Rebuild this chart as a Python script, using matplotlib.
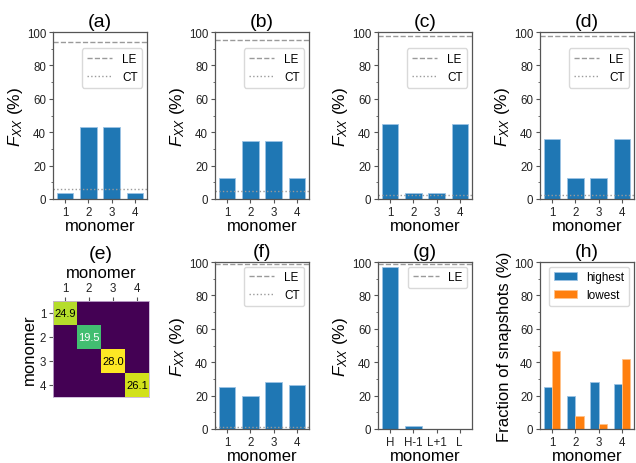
import numpy as np
import matplotlib
matplotlib.use('Agg')
import matplotlib.pyplot as plt
from matplotlib.ticker import MultipleLocator

plt.rcParams['font.family'] = ['Liberation Sans', 'DejaVu Sans']
plt.rcParams['mathtext.fontset'] = 'custom'
plt.rcParams['mathtext.it'] = 'Liberation Sans:italic'
plt.rcParams['mathtext.rm'] = 'Liberation Sans'

# Datos de cada panel
monomers = ['1', '2', '3', '4']
orbitals = ['H', 'H-1', 'L+1', 'L']

fxx_a = [3.5, 43.0, 43.0, 3.5]
fxx_b = [12.5, 35.0, 35.0, 12.5]
fxx_c = [45.0, 3.5, 3.5, 45.0]
fxx_d = [36.2, 12.5, 12.5, 36.2]
fxx_f = [24.9, 19.5, 28.0, 26.1]
fxx_g = [97.0, 1.5, 0.0, 0.0]

le_vals = {'a': 94.0, 'b': 95.2, 'c': 97.5, 'd': 97.6, 'f': 98.8, 'g': 98.6}
ct_vals = {'a': 6.0, 'b': 4.8, 'c': 2.5, 'd': 2.4, 'f': 1.2}

diag_e = [24.9, 19.5, 28.0, 26.1]

highest = [25.0, 20.0, 28.0, 27.0]
lowest = [47.0, 8.0, 3.0, 42.0]

BLUE = '#1f77b4'
ORANGE = '#ff7f0e'
LINE_GRAY = '#9a9a9a'
SPINE = '#555555'
LABEL_FS = 12
TICK_FS = 8.3

W, H = 636, 464
fig = plt.figure(figsize=(W / 100, H / 100), dpi=100)


def px_axes(left, top, width, height):
    return fig.add_axes([left / W, 1 - (top + height) / H, width / W, height / H])


def style(ax):
    for s in ax.spines.values():
        s.set_color(SPINE)
        s.set_linewidth(0.9)
    ax.tick_params(colors=SPINE, labelcolor='#222222', labelsize=TICK_FS, width=0.8, length=3, pad=2)
    ax.tick_params(which='minor', colors=SPINE, width=0.6, length=1.8)


def fxx_panel(ax, labels, vals, title, le=None, ct=None, leg_y=1.0):
    x = np.arange(1, len(vals) + 1)
    ax.bar(x, vals, width=0.7, color=BLUE, edgecolor='#9cc3e4', linewidth=0.6)
    if le is not None:
        ax.axhline(le, color=LINE_GRAY, ls='--', lw=1.0, label='LE')
    if ct is not None:
        ax.axhline(ct, color=LINE_GRAY, ls=':', lw=1.0, label='CT')
    ax.set_ylim(0, 100)
    ax.set_xticks(x)
    ax.set_xticklabels(labels)
    ax.yaxis.set_minor_locator(MultipleLocator(10))
    ax.set_xlabel('monomer', fontsize=LABEL_FS, labelpad=0)
    ax.set_ylabel('$F_{XX}$ (%)', fontsize=12.5, labelpad=1)
    ax.set_title(title, fontsize=14, pad=4)
    leg = ax.legend(loc='upper right', bbox_to_anchor=(1.0, leg_y), fontsize=8.5,
                    handlelength=2.2, borderaxespad=0.4, fancybox=True)
    leg.get_frame().set_edgecolor('#d0d0d0')
    style(ax)


lefts = [53, 215, 378, 540]
wid = 94
top1, top2, hgt = 33, 263, 167

ax_a = px_axes(lefts[0], top1, wid, hgt)
fxx_panel(ax_a, monomers, fxx_a, '(a)', le_vals['a'], ct_vals['a'], 0.93)
ax_b = px_axes(lefts[1], top1, wid, hgt)
fxx_panel(ax_b, monomers, fxx_b, '(b)', le_vals['b'], ct_vals['b'], 0.93)
ax_c = px_axes(lefts[2], top1, wid, hgt)
fxx_panel(ax_c, monomers, fxx_c, '(c)', le_vals['c'], ct_vals['c'], 0.93)
ax_d = px_axes(lefts[3], top1, wid, hgt)
fxx_panel(ax_d, monomers, fxx_d, '(d)', le_vals['d'], ct_vals['d'], 0.93)

# (e) matriz de transferencia
ax_e = px_axes(53, 302, 96, 96)
mat = np.zeros((4, 4))
for i, v in enumerate(diag_e):
    mat[i, i] = v
ax_e.imshow(mat, cmap='viridis', vmin=0, vmax=max(diag_e))
for i, v in enumerate(diag_e):
    ax_e.text(i, i, f'{v:.1f}', ha='center', va='center', fontsize=8,
              color='white' if v < 22 else 'black')
ax_e.set_xticks(range(4))
ax_e.set_yticks(range(4))
ax_e.set_xticklabels(monomers)
ax_e.set_yticklabels(monomers)
ax_e.xaxis.tick_top()
ax_e.xaxis.set_label_position('top')
ax_e.set_xlabel('monomer', fontsize=LABEL_FS, labelpad=4)
ax_e.set_ylabel('monomer', fontsize=LABEL_FS, labelpad=2)
ax_e.set_title('(e)', fontsize=14, pad=5)
for s in ax_e.spines.values():
    s.set_color('#c9b3d6')
    s.set_linewidth(0.6)
ax_e.tick_params(colors=SPINE, labelcolor='#222222', labelsize=TICK_FS, width=0.8, length=3, pad=2)

ax_f = px_axes(lefts[1], top2, wid, hgt)
fxx_panel(ax_f, monomers, fxx_f, '(f)', le_vals['f'], ct_vals['f'])
ax_g = px_axes(lefts[2], top2, wid, hgt)
fxx_panel(ax_g, orbitals, fxx_g, '(g)', le_vals['g'], None)

# (h) fracción de snapshots
ax_h = px_axes(lefts[3], top2, wid, hgt)
x = np.arange(1, 5)
ax_h.bar(x - 0.175, highest, width=0.35, color=BLUE, edgecolor='#9cc3e4', linewidth=0.6, label='highest')
ax_h.bar(x + 0.175, lowest, width=0.35, color=ORANGE, edgecolor='#ffc28a', linewidth=0.6, label='lowest')
ax_h.set_ylim(0, 100)
ax_h.set_xticks(x)
ax_h.set_xticklabels(monomers)
ax_h.yaxis.set_minor_locator(MultipleLocator(10))
ax_h.set_xlabel('monomer', fontsize=LABEL_FS, labelpad=0)
ax_h.set_ylabel('Fraction of snapshots (%)', fontsize=LABEL_FS, labelpad=1)
ax_h.set_title('(h)', fontsize=14, pad=4)
leg = ax_h.legend(loc='upper right', fontsize=8.5, borderaxespad=0.4)
leg.get_frame().set_edgecolor('#d0d0d0')
style(ax_h)

fig.savefig('out.png', dpi=100)
